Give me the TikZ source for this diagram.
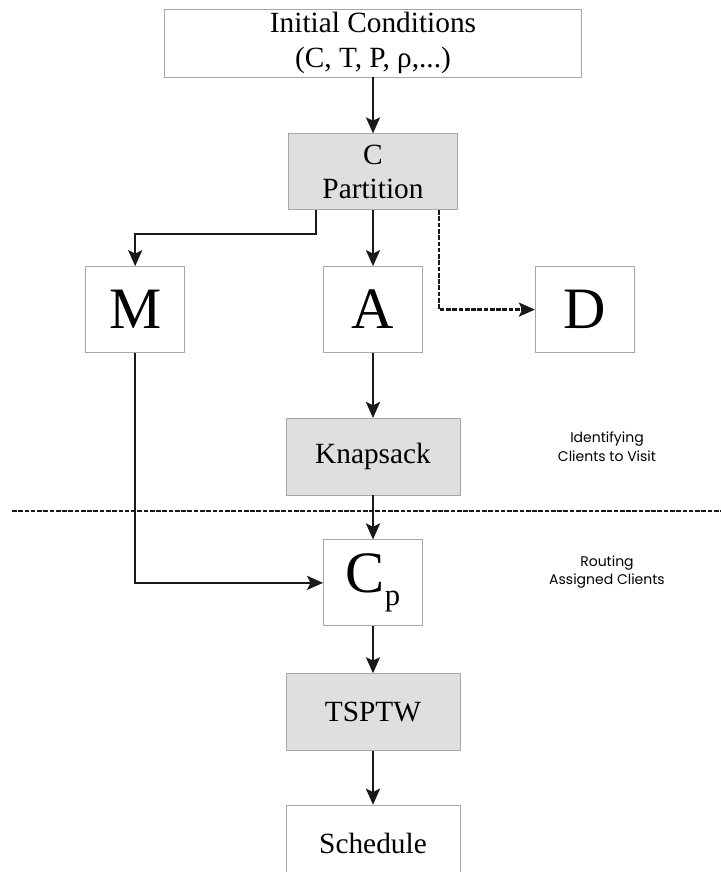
\documentclass[tikz,border=0pt]{standalone}
\usepackage{fontspec}
\setmainfont{Liberation Serif}
\newfontfamily\notefont{Poppins}
\usetikzlibrary{arrows.meta, positioning}

\begin{document}
\begin{tikzpicture}[
	x=0.75pt, y=-0.75pt,
	node distance={42pt},
	wbox/.style = {draw=gray!70, fill=white, line width=0.6pt, align=center, inner sep=0pt, font=\fontsize{22}{26}\selectfont},
	gbox/.style = {wbox, fill=gray!25, minimum width=130.5pt, minimum height=57.5pt},
	lbox/.style = {wbox, minimum width=74.25pt, minimum height=64.5pt, font=\fontsize{44}{44}\selectfont},
	note/.style = {align=center, font=\notefont\fontsize{10.5}{14}\selectfont},
	arr/.style = {-{Stealth[length=12pt, width=10.5pt, inset=2.5pt]}, line width=1.8pt, draw=black!90},
	darr/.style = {arr, dash pattern=on 3.5pt off 1.2pt}
]
\useasboundingbox (0,0) rectangle (721,872);

\node[wbox, minimum width=312.75pt, minimum height=51pt] (init) at (373,43) {Initial Conditions\\(C, T, P, ρ,...)};
\node[gbox, minimum width=126.75pt, minimum height=57pt] (part) [below=of init] {C\\Partition};
\node[lbox] (A) [below=of part] {A};
\node[lbox] (M) [left=103.5pt of A] {M};
\node[lbox] (D) [right=84pt of A] {D};
\node[gbox] (knap) [below=48.75pt of A] {Knapsack};
\node[lbox] (Cp) [below=33pt of knap] {C\raisebox{-10pt}{\fontsize{23}{23}\selectfont p}};
\node[gbox] (tsp) [below=35.25pt of Cp] {TSPTW};
\node[wbox, minimum width=130.5pt, minimum height=57pt] (sched) [below=40.5pt of tsp] {Schedule};

\node[note] (ident) at (607,447) {Identifying\\Clients to Visit};
\node[note] (route) at (607,572) {Routing\\Assigned Clients};

\coordinate (sepl) at (12,511);
\coordinate (sepr) at (721,511);
\draw[line width=1.8pt, draw=black!90, dash pattern=on 3.5pt off 1.2pt] (sepl) -- (sepr);

\draw[arr] (init) -- (part);
\draw[arr] ([xshift=21pt]part.south west) |- ([yshift=24pt]M.north) -- (M.north);
\draw[arr] (part) -- (A);
\draw[darr] ([xshift=-14.25pt]part.south east) |- (D);
\draw[arr] (A) -- (knap);
\draw[arr] (knap) -- (Cp);
\draw[arr] (M) |- (Cp);
\draw[arr] (Cp) -- (tsp);
\draw[arr] (tsp) -- (sched);
\end{tikzpicture}
\end{document}
